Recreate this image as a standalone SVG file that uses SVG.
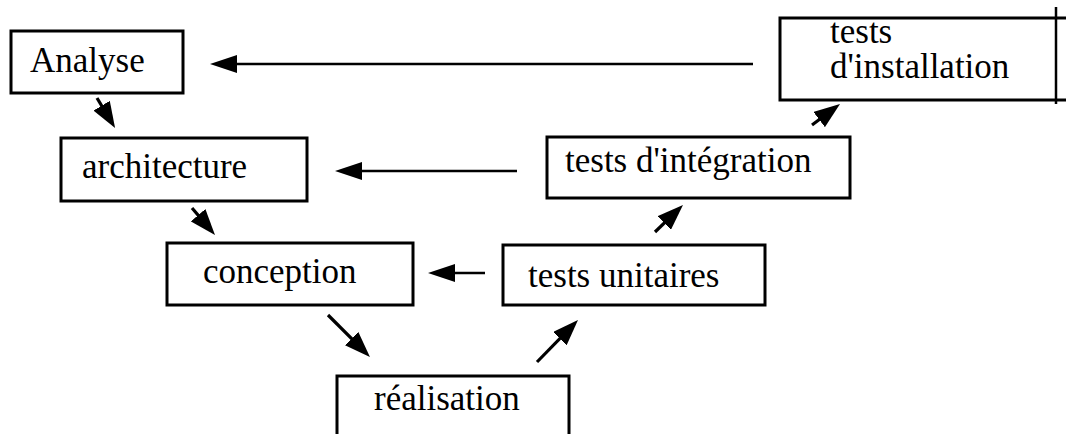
<svg xmlns="http://www.w3.org/2000/svg" width="1066" height="434" viewBox="0 0 1066 434">
<style>
.box{fill:#fff;stroke:#000;stroke-width:3}
.lbl{font-family:"Liberation Serif","Times New Roman",serif;font-size:35px;fill:#000}
.con{fill:none;stroke:#000;stroke-width:2.6}
.dia{fill:none;stroke:#000;stroke-width:3.2}
</style>
<defs>
<marker id="ah" viewBox="0 0 27 18" refX="17" refY="9" markerWidth="27" markerHeight="18" markerUnits="userSpaceOnUse" orient="auto">
<path d="M0,0 L27,9 L0,18 Z" fill="#000"/>
</marker>
<marker id="ad" viewBox="0 0 26 19" refX="16" refY="9.5" markerWidth="26" markerHeight="19" markerUnits="userSpaceOnUse" orient="auto">
<path d="M0,0 L26,9.5 L0,19 Z" fill="#000"/>
</marker>
</defs>
<rect width="1066" height="434" fill="#fff"/>
<g id="analyse"><rect class="box" x="11" y="31" width="172" height="62"/><text class="lbl" x="30" y="72">Analyse</text></g>
<g id="architecture"><rect class="box" x="61" y="138" width="246" height="63"/><text class="lbl" x="82" y="178">architecture</text></g>
<g id="conception"><rect class="box" x="167" y="243" width="246" height="62"/><text class="lbl" x="203" y="283">conception</text></g>
<g id="realisation"><rect class="box" x="337" y="376" width="232" height="70"/><text class="lbl" x="374" y="410">réalisation</text></g>
<g id="tests-unitaires"><rect class="box" x="503" y="245" width="262" height="60"/><text class="lbl" x="528" y="287">tests unitaires</text></g>
<g id="tests-integration"><rect class="box" x="547" y="137" width="303" height="61"/><text class="lbl" x="565" y="172">tests d'intégration</text></g>
<g id="tests-installation"><rect class="box" x="780" y="18" width="300" height="82"/><text class="lbl" x="830" y="43">tests</text><text class="lbl" x="830" y="78">d'installation</text><line x1="1056" y1="7" x2="1056" y2="104" stroke="#000" stroke-width="2.5"/></g>
<g id="connectors">
<path class="con" d="M753,64 L220,64" marker-end="url(#ah)"/>
<path class="con" d="M517,171 L345,171" marker-end="url(#ah)"/>
<path class="con" d="M485,273 L438,273" marker-end="url(#ah)"/>
<path class="dia" d="M97,98 L109.9,119.4" marker-end="url(#ad)"/>
<path class="dia" d="M192,208 L208.5,227.4" marker-end="url(#ad)"/>
<path class="dia" d="M328,315 L362.9,349.9" marker-end="url(#ad)"/>
<path class="dia" d="M537,362 L571,327.2" marker-end="url(#ad)"/>
<path class="dia" d="M655,232 L675.8,211.9" marker-end="url(#ad)"/>
<path class="dia" d="M812,125 L832,110" marker-end="url(#ad)"/>
</g>
</svg>
